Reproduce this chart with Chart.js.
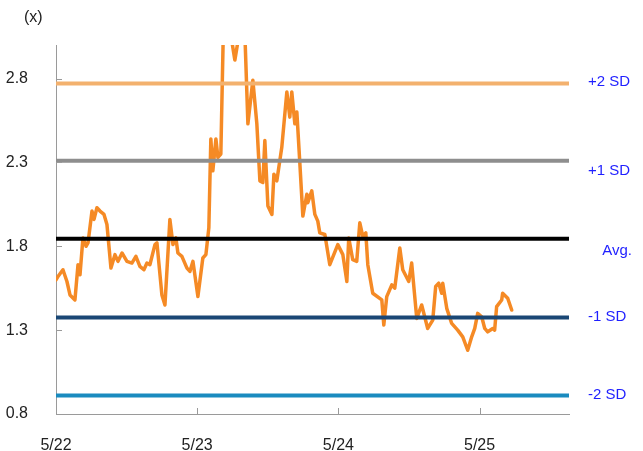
<!DOCTYPE html>
<html>
<head>
<meta charset="utf-8">
<script src="https://cdn.jsdelivr.net/npm/chart.js@4"></script>
<style>
  html, body { margin: 0; padding: 0; background: #fff; }
  #wrap { width: 643px; height: 451px; }
</style>
</head>
<body>
<div id="wrap"><canvas id="myChart" width="643" height="451"></canvas></div>
<script>
// months since May 2022
const monthOffset = [
  0, 0.17, 0.59, 0.93, 1.19, 1.61, 1.87, 2.04, 2.29, 2.55, 2.72, 3.06, 3.23, 3.48, 3.74, 4.08, 4.33,
  4.67, 5.01, 5.27, 5.61, 6.03, 6.45, 6.79, 7.13, 7.47, 7.73, 7.98, 8.41, 8.58, 9.00, 9.26, 9.68,
  9.94, 10.19, 10.36, 10.70, 11.13, 11.38, 11.64, 12.06, 12.48, 12.74, 12.99, 13.16, 13.33, 13.59,
  13.76, 14.01, 14.27, 14.61, 14.95, 15.20, 15.46, 15.80, 16.06, 16.31, 16.73, 17.07, 17.33, 17.58,
  17.75, 18.01, 18.35, 18.52, 18.77, 19.19, 19.62, 19.87, 20.04, 20.30, 20.47, 20.72, 20.98, 21.32,
  21.40, 21.74, 22.00, 22.25, 22.42, 22.85, 23.27, 23.95, 24.38, 24.72, 24.88, 25.22, 25.56, 25.82,
  26.07, 26.33, 26.50, 26.92, 27.69, 27.86, 28.11, 28.54, 28.79, 29.22, 29.47, 29.98, 30.23, 30.66,
  31.08, 31.59, 32.02, 32.27, 32.53, 32.78, 32.87, 33.21, 33.63, 34.14, 34.57, 34.99, 35.33, 35.59,
  35.84, 36.18, 36.44, 36.69, 37.12, 37.28, 37.45, 37.88, 37.96, 38.39, 38.73
];
const ratio = [
  1.60, 1.62, 1.66, 1.59, 1.51, 1.48, 1.69, 1.63, 1.85, 1.80, 1.82, 2.01, 1.96, 2.03, 2.01, 1.99, 1.93,
  1.67, 1.75, 1.71, 1.76, 1.71, 1.70, 1.74, 1.68, 1.66, 1.70, 1.69, 1.81, 1.82, 1.51, 1.45, 1.96,
  1.81, 1.85, 1.76, 1.74, 1.67, 1.65, 1.71, 1.50, 1.73, 1.75, 1.91, 2.44, 2.25, 2.44,
  2.33, 2.35, 3.25, 3.30, 3.02, 2.91, 3.02, 3.25, 3.05, 2.53, 2.79, 2.53, 2.19, 2.18,
  2.43, 2.04, 1.99, 2.23, 2.19, 2.39, 2.72, 2.57, 2.72, 2.53, 2.60, 2.30, 1.98, 2.11,
  2.06, 2.13, 1.99, 1.95, 1.88, 1.87, 1.69, 1.81, 1.75, 1.59, 1.85, 1.72, 1.71, 1.94,
  1.86, 1.88, 1.69, 1.52, 1.48, 1.33, 1.50, 1.57, 1.55, 1.79, 1.66, 1.59, 1.70, 1.37,
  1.45, 1.31, 1.36, 1.56, 1.58, 1.52, 1.58, 1.43, 1.34, 1.30, 1.26, 1.18, 1.26, 1.31,
  1.40, 1.38, 1.31, 1.29, 1.31, 1.30, 1.44, 1.48, 1.52, 1.49, 1.42
];

const sdLabels = ['+2 SD', '+1 SD', 'Avg.', '-1 SD', '-2 SD'];
const sdLevels = [2.77, 2.31, 1.845, 1.375, 0.91];
const sdColors = ['#F3B16E', '#8E8E8E', '#000000', '#1A4775', '#1A8BBF'];

const yTicks = [0.8, 1.3, 1.8, 2.3, 2.8];
const xTicks = [0, 12, 24, 36];
const xTickLabels = ['5/22', '5/23', '5/24', '5/25'];

const xMax = 43.6;
const FONT = '"Liberation Sans", Arial, sans-serif';

const series = {
  label: 'Ratio',
  data: monthOffset.map((m, i) => ({ x: m, y: ratio[i] })),
  borderColor: '#F58A25',
  borderWidth: 3.5,
  borderJoinStyle: 'round',
  borderCapStyle: 'round',
  pointRadius: 0,
  tension: 0,
  order: 2
};

const bands = sdLevels.map((lvl, i) => ({
  label: sdLabels[i],
  data: [{ x: 0, y: lvl }, { x: xMax, y: lvl }],
  borderColor: sdColors[i],
  borderWidth: 4,
  pointRadius: 0,
  order: 1
}));

const extras = {
  id: 'extras',
  afterDraw(chart) {
    const { ctx, chartArea, scales } = chart;
    ctx.save();
    // inward tick marks
    ctx.strokeStyle = '#9a9a9a';
    ctx.lineWidth = 1;
    yTicks.forEach(v => {
      const y = Math.round(scales.y.getPixelForValue(v)) + 0.5;
      ctx.beginPath();
      ctx.moveTo(chartArea.left, y);
      ctx.lineTo(chartArea.left + 6, y);
      ctx.stroke();
    });
    xTicks.forEach(v => {
      const x = Math.round(scales.x.getPixelForValue(v)) + 0.5;
      ctx.beginPath();
      ctx.moveTo(x, chartArea.bottom);
      ctx.lineTo(x, chartArea.bottom - 6);
      ctx.stroke();
    });

    // unit label
    ctx.fillStyle = '#222';
    ctx.font = '16px ' + FONT;
    ctx.textAlign = 'left';
    ctx.textBaseline = 'middle';
    ctx.fillText('(x)', 24, 18);

    // band labels
    const nudge = [-2, 10, 12, -1, -1];
    ctx.fillStyle = '#1F1FFF';
    ctx.font = '15px ' + FONT;
    sdLabels.forEach((t, i) => {
      const y = scales.y.getPixelForValue(sdLevels[i]) + nudge[i];
      if (t === 'Avg.') {
        ctx.textAlign = 'right';
        ctx.fillText(t, chartArea.right + 63, y);
      } else {
        ctx.textAlign = 'left';
        ctx.fillText(t, chartArea.right + 19, y);
      }
    });
    ctx.restore();
  }
};

const ctx = document.getElementById('myChart').getContext('2d');
const myChart = new Chart(ctx, {
  type: 'line',
  data: { datasets: [series, ...bands] },
  options: {
    responsive: false,
    animation: false,
    layout: { padding: { top: 45, right: 74, left: 0, bottom: 0 } },
    plugins: { legend: { display: false }, tooltip: { enabled: false } },
    scales: {
      x: {
        type: 'linear',
        min: 0,
        max: xMax,
        grid: { display: false },
        border: { display: true, color: '#9a9a9a', width: 1 },
        afterBuildTicks: s => { s.ticks = xTicks.map(v => ({ value: v })); },
        afterFit: s => { s.height = 37; },
        ticks: {
          padding: 14,
          color: '#222',
          font: { size: 16, family: FONT },
          maxRotation: 0,
          callback: v => xTickLabels[xTicks.indexOf(v)]
        }
      },
      y: {
        min: 0.8,
        max: 3.0,
        grid: { display: false },
        border: { display: true, color: '#9a9a9a', width: 1 },
        afterBuildTicks: s => { s.ticks = yTicks.map(v => ({ value: v })); },
        afterFit: s => { s.width = 56; },
        ticks: {
          padding: 20,
          color: '#222',
          font: { size: 16, family: FONT },
          callback: v => v.toFixed(1)
        }
      }
    }
  },
  plugins: [extras]
});
</script>
</body>
</html>
